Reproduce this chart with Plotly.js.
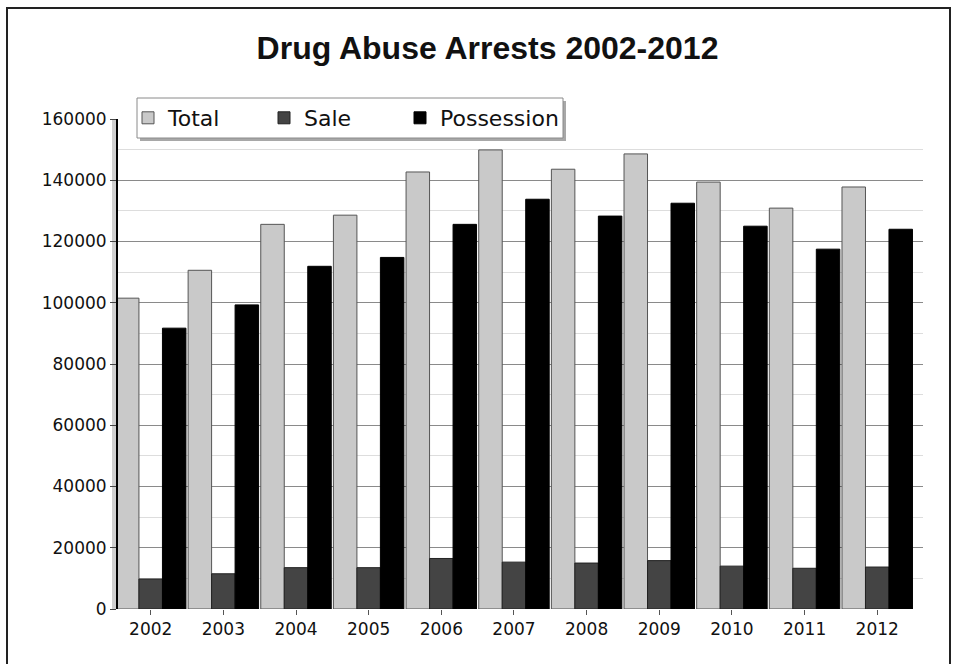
<!DOCTYPE html>
<html>
<head>
<meta charset="utf-8">
<script src="https://cdn.plot.ly/plotly-3.0.1.min.js"></script>
<style>
  html, body { margin: 0; padding: 0; background: #fff; }
  #chart { width: 958px; height: 664px; }
</style>
</head>
<body>
<div id="chart"></div>
<script>
// ---- data ----
const years = ['2002','2003','2004','2005','2006','2007','2008','2009','2010','2011','2012'];
const totalArrests = [101500, 110600, 125600, 128600, 142700, 149900, 143600, 148600, 139400, 130900, 137800];
const saleArrests = [9800, 11500, 13500, 13500, 16500, 15300, 15000, 15800, 14000, 13300, 13700];
const possessionArrests = [91700, 99300, 111900, 114800, 125600, 133800, 128300, 132500, 125000, 117500, 124000];
const yTickVals = [0, 20000, 40000, 60000, 80000, 100000, 120000, 140000, 160000];
const yTickText = ['0', '20000', '40000', '60000', '80000', '100000', '120000', '140000', '160000'];

// ---- layout geometry ----
const W = 958, H = 664;
const M = { l: 118, r: 35, t: 119, b: 55 };
const PW = W - M.l - M.r, PH = H - M.t - M.b;
const px2x = px => (px - M.l) / PW;
const py2y = py => (H - M.b - py) / PH;

const traces = [
  { type: 'bar', name: 'Total', x: years, y: totalArrests, legend: 'legend',
    marker: { color: '#c9c9c9', line: { color: '#555555', width: 1 } } },
  { type: 'bar', name: 'Sale', x: years, y: saleArrests, legend: 'legend',
    marker: { color: '#444444', line: { color: '#222222', width: 1 } } },
  { type: 'bar', name: 'Possession', x: years, y: possessionArrests, legend: 'legend2',
    marker: { color: '#000000', line: { color: '#000000', width: 1 } } }
];

const legendFont = { family: 'DejaVu Sans, sans-serif', size: 22, color: '#111111' };

const layout = {
  width: W, height: H,
  margin: M,
  paper_bgcolor: '#ffffff',
  plot_bgcolor: '#ffffff',
  font: { family: 'DejaVu Sans, sans-serif', color: '#111111', size: 17 },
  title: {
    text: '<b>Drug Abuse Arrests 2002-2012</b>',
    font: { family: 'Liberation Sans, Arial, sans-serif', size: 32, color: '#111111' },
    x: 487.5 / W, xanchor: 'center',
    y: 1 - 48 / H, yanchor: 'middle', yref: 'container'
  },
  barmode: 'group',
  bargap: 0.03,
  bargroupgap: 0,
  showlegend: true,
  legend: {
    orientation: 'h',
    x: px2x(128), y: py2y(97), xanchor: 'left', yanchor: 'top',
    bgcolor: 'rgba(0,0,0,0)', borderwidth: 0,
    font: legendFont,
    itemwidth: 30,
    entrywidth: 91,
    traceorder: 'normal'
  },
  legend2: {
    orientation: 'h',
    x: px2x(400), y: py2y(97), xanchor: 'left', yanchor: 'top',
    bgcolor: 'rgba(0,0,0,0)', borderwidth: 0,
    font: legendFont,
    itemwidth: 30
  },
  xaxis: {
    type: 'category',
    range: [-0.45, 10.63],
    showgrid: false,
    zeroline: false,
    showline: false,
    ticks: 'outside', ticklen: 5, tickcolor: '#555555',
    tickfont: { size: 17, family: 'DejaVu Sans, sans-serif', color: '#111111' },
    fixedrange: true
  },
  yaxis: {
    range: [0, 160000],
    tickvals: yTickVals,
    ticktext: yTickText,
    showgrid: true, gridcolor: '#8a8a8a', gridwidth: 1,
    minor: { dtick: 10000, showgrid: true, gridcolor: '#dddddd', gridwidth: 1, ticks: '' },
    zeroline: false,
    showline: true, linecolor: '#000000', linewidth: 2,
    ticks: 'outside', ticklen: 6, tickcolor: '#444444',
    tickfont: { size: 17, family: 'DejaVu Sans, sans-serif', color: '#111111' },
    fixedrange: true
  },
  shapes: [
    // 3D-style wall strip left of the value axis
    { type: 'rect', xref: 'paper', yref: 'paper', layer: 'below',
      x0: px2x(112), x1: px2x(118), y0: 0, y1: 1,
      line: { width: 0 }, fillcolor: '#d0d0d0' },
    // legend shadow
    { type: 'rect', xref: 'paper', yref: 'paper', layer: 'above',
      x0: px2x(140), x1: px2x(566), y0: py2y(141), y1: py2y(101),
      line: { width: 0 }, fillcolor: '#a8a8a8' },
    // legend box
    { type: 'rect', xref: 'paper', yref: 'paper', layer: 'above',
      x0: px2x(137), x1: px2x(563), y0: py2y(138), y1: py2y(98),
      line: { color: '#8a8a8a', width: 1 }, fillcolor: '#ffffff' },
    // outer frame
    { type: 'rect', xref: 'paper', yref: 'paper', layer: 'above',
      x0: px2x(7), x1: px2x(950), y0: py2y(680), y1: py2y(8),
      line: { color: '#222222', width: 2 }, fillcolor: 'rgba(0,0,0,0)' }
  ]
};

Plotly.newPlot('chart', traces, layout, { displayModeBar: false, staticPlot: true });
</script>
</body>
</html>
